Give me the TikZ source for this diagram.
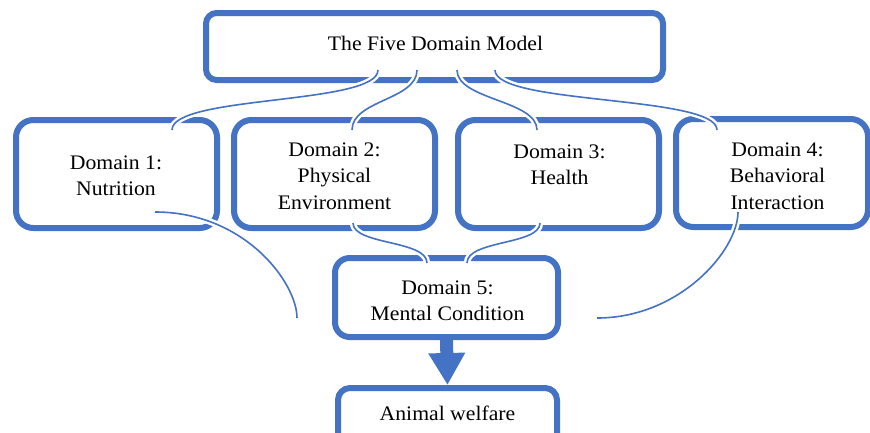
\documentclass[tikz,border=0pt]{standalone}
\usepackage{fontspec}
\setmainfont[FakeStretch=1.05]{Liberation Serif}
\usetikzlibrary{arrows.meta}
\definecolor{obl}{HTML}{4472C4}
\tikzset{
  box/.style={draw=obl, line width=4.5pt, rectangle, rounded corners=13pt, fill=white, inner sep=0pt},
  txt/.style={align=center, font=\fontsize{15.5pt}{19.8pt}\selectfont, text=black, inner sep=0pt},
  conn/.style={draw=obl, line width=1.2pt, preaction={draw=white, line width=4.8pt}},
  blockarrow/.style={draw=obl, line width=9.75pt, -{Triangle[width=26pt, length=24pt]}}
}
\begin{document}
\begin{tikzpicture}[x=0.75pt, y=-0.75pt]
\useasboundingbox (0,0) rectangle (870,432);
\clip (0,0) rectangle (870,432);
% boxes
\node[box, rounded corners=8pt, minimum width=342.75pt, minimum height=50.25pt] (top) at (434.5,46.5) {};
\node[box, minimum width=150.75pt, minimum height=81pt] (d1) at (116.5,174) {};
\node[box, minimum width=150.75pt, minimum height=81pt] (d2) at (334.5,174) {};
\node[box, minimum width=150.75pt, minimum height=81pt] (d3) at (558.5,174) {};
\node[box, minimum width=144pt, minimum height=81pt] (d4) at (772,173) {};
\node[box, rounded corners=11pt, minimum width=167.25pt, minimum height=59.25pt] (d5) at (446.5,297.5) {};
\node[box, rounded corners=9pt, minimum width=164.25pt, minimum height=46.5pt] (aw) at (447.5,419) {};
% texts
\node[txt] (toptxt) at (435.5,43.5) {The Five Domain Model};
\node[txt] (d1txt) at (116,175.5) {Domain 1:\\Nutrition};
\node[txt] (d2txt) at (334.5,176) {Domain 2:\\Physical\\Environment};
\node[txt] (d3txt) at (559.5,164.5) {Domain 3:\\Health};
\node[txt] (d4txt) at (777.5,176) {Domain 4:\\Behavioral\\Interaction};
\node[txt] (d5txt) at (447.5,300.5) {Domain 5:\\Mental Condition};
\node[txt] (awtxt) at (447.5,413.5) {Animal welfare};
% block arrow
\draw[blockarrow] (d5.south) -- (aw.north);
% connector end points
\coordinate (t1) at (378,70);
\coordinate (t2) at (417,70);
\coordinate (t3) at (457,70);
\coordinate (t4) at (495,70);
\coordinate (a1) at (172,130);
\coordinate (a2) at (352,130);
\coordinate (a3) at (537,130);
\coordinate (a4) at (717,130);
\coordinate (b2) at (353,223);
\coordinate (b3) at (540,223);
\coordinate (c2) at (427,263);
\coordinate (c3) at (467,263);
\coordinate (e1) at (155,212);
\coordinate (f1) at (297,318);
\coordinate (e4) at (738,212);
\coordinate (f4) at (597,318);
% connectors
\draw[conn] (t1) .. controls (378,105) and (172,95) .. (a1);
\draw[conn] (t2) .. controls (417,100) and (352,100) .. (a2);
\draw[conn] (t3) .. controls (457,100) and (537,100) .. (a3);
\draw[conn] (t4) .. controls (495,105) and (717,95) .. (a4);
\draw[conn] (b2) .. controls (353,245) and (427,240) .. (c2);
\draw[conn] (b3) .. controls (540,245) and (467,240) .. (c3);
\draw[conn] (e1) .. controls (245,212) and (297,283) .. (f1);
\draw[conn] (e4) .. controls (738,250) and (680,318) .. (f4);
\end{tikzpicture}
\end{document}
